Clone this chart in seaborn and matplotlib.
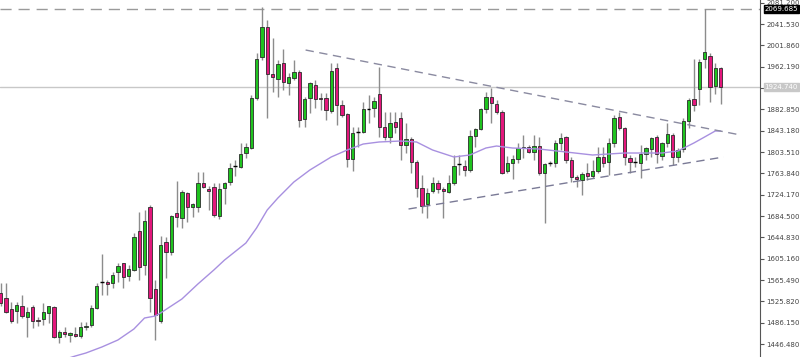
import numpy as np
import matplotlib
matplotlib.use("Agg")
import matplotlib.pyplot as plt
import matplotlib.transforms as mtransforms
import seaborn as sns

# ---------------- data ----------------
opens = [1541.4, 1532.1, 1511.6, 1507.9, 1517.2, 1496.7, 1515.3, 1491.2, 1493.0, 1504.2,
         1515.3, 1459.5, 1468.8, 1463.3, 1465.1, 1461.4, 1478.1, 1481.9, 1513.5, 1561.8,
         1561.8, 1560.0, 1580.4, 1597.2, 1573.0, 1584.2, 1656.6, 1593.4, 1701.3, 1548.8,
         1489.3, 1636.2, 1617.6, 1690.1, 1680.8, 1727.3, 1701.3, 1701.3, 1745.9, 1734.8,
         1738.5, 1684.5, 1736.6, 1747.8, 1777.5, 1775.7, 1801.7, 1811.0, 1903.9, 1980.2,
         2036.0, 1948.6, 1939.3, 1969.1, 1931.9, 1941.2, 1952.3, 1864.9, 1903.9, 1928.2,
         1903.9, 1903.9, 1879.8, 1959.8, 1890.9, 1874.2, 1790.5, 1840.7, 1840.7, 1883.5,
         1885.4, 1911.4, 1850.0, 1831.4, 1859.3, 1866.8, 1816.6, 1827.7, 1785.0, 1736.6,
         1706.9, 1731.0, 1745.9, 1734.8, 1729.2, 1745.9, 1781.2, 1777.5, 1770.1, 1833.3,
         1846.3, 1883.5, 1905.8, 1892.8, 1877.9, 1768.2, 1783.1, 1790.5, 1811.0, 1812.9,
         1803.6, 1814.7, 1764.5, 1783.1, 1783.1, 1820.3, 1831.4, 1788.7, 1757.1, 1751.5,
         1764.5, 1758.9, 1768.2, 1794.3, 1785.0, 1820.3, 1868.6, 1848.2, 1792.4, 1785.0,
         1783.1, 1799.8, 1809.1, 1831.4, 1796.1, 1820.3, 1835.2, 1794.3, 1809.1, 1861.2,
         1902.1, 1920.7, 1976.5, 1982.1, 1926.3, 1959.8]
closes = [1522.8, 1506.0, 1489.3, 1519.1, 1498.6, 1506.0, 1489.3, 1490.2, 1506.0, 1517.2,
          1459.5, 1468.8, 1465.1, 1467.0, 1461.4, 1478.1, 1480.0, 1513.5, 1554.4, 1561.8,
          1558.1, 1574.8, 1591.6, 1571.1, 1586.0, 1645.5, 1589.7, 1675.2, 1532.1, 1500.5,
          1630.6, 1617.6, 1684.5, 1682.7, 1729.2, 1701.3, 1706.9, 1745.9, 1738.5, 1731.0,
          1686.4, 1734.8, 1745.9, 1773.8, 1777.5, 1799.8, 1812.9, 1903.9, 1976.5, 2036.0,
          1948.6, 1943.0, 1967.2, 1933.7, 1943.0, 1952.3, 1863.1, 1902.1, 1931.9, 1902.1,
          1902.1, 1881.7, 1954.2, 1890.9, 1872.4, 1790.5, 1838.9, 1840.7, 1883.5, 1883.5,
          1898.4, 1850.0, 1831.4, 1857.5, 1850.0, 1816.6, 1827.7, 1785.0, 1736.6, 1703.1,
          1727.3, 1745.9, 1734.8, 1731.0, 1745.9, 1777.5, 1781.2, 1770.1, 1833.3, 1846.3,
          1883.5, 1905.8, 1894.7, 1877.9, 1764.5, 1783.1, 1790.5, 1811.0, 1812.9, 1803.6,
          1814.7, 1764.5, 1781.2, 1783.1, 1820.3, 1829.6, 1788.7, 1757.1, 1753.3, 1762.7,
          1758.9, 1768.2, 1794.3, 1783.1, 1820.3, 1866.8, 1848.2, 1794.3, 1785.0, 1785.0,
          1799.8, 1811.0, 1829.6, 1799.8, 1820.3, 1837.0, 1794.3, 1807.3, 1861.2, 1900.3,
          1890.9, 1970.9, 1989.5, 1924.4, 1959.8, 1924.74]
highs = [1560.0, 1560.0, 1524.6, 1524.6, 1537.6, 1515.3, 1519.1, 1496.7, 1522.8, 1517.2,
         1517.2, 1472.5, 1478.1, 1468.8, 1478.1, 1487.4, 1487.4, 1519.1, 1560.0, 1613.9,
         1565.6, 1580.4, 1597.2, 1597.2, 1593.4, 1652.9, 1692.0, 1695.7, 1705.0, 1565.5,
         1647.4, 1645.5, 1686.4, 1749.6, 1732.9, 1729.2, 1708.7, 1766.4, 1766.4, 1740.3,
         1745.9, 1745.9, 1747.8, 1783.1, 1788.7, 1820.3, 1820.3, 1909.5, 1987.6, 2074.0,
         2049.0, 2015.5, 1974.6, 1995.1, 1950.5, 1974.6, 1956.0, 1905.8, 1933.7, 1937.4,
         1913.3, 1913.3, 1969.1, 1969.1, 1900.3, 1876.1, 1850.0, 1850.0, 1896.5, 1909.5,
         1905.8, 1961.6, 1877.9, 1877.9, 1877.9, 1877.9, 1857.5, 1831.4, 1788.7, 1760.8,
         1736.6, 1757.1, 1751.5, 1738.5, 1760.8, 1798.0, 1798.0, 1788.7, 1844.5, 1848.2,
         1885.4, 1915.1, 1922.6, 1900.3, 1881.7, 1796.1, 1798.0, 1820.3, 1835.2, 1816.6,
         1835.2, 1831.4, 1783.1, 1786.8, 1825.9, 1838.9, 1833.3, 1794.3, 1760.8, 1766.4,
         1783.1, 1788.7, 1812.9, 1812.9, 1829.6, 1872.4, 1877.9, 1850.0, 1798.0, 1794.3,
         1816.6, 1812.9, 1831.4, 1835.2, 1822.2, 1857.5, 1838.9, 1811.0, 1866.8, 1903.9,
         1976.5, 1976.5, 2069.685, 1987.6, 1969.1, 1961.6]
lows = [1517.2, 1504.2, 1485.6, 1485.6, 1494.9, 1459.5, 1476.3, 1480.0, 1481.9, 1485.6,
        1457.7, 1448.4, 1459.5, 1450.2, 1459.5, 1457.7, 1472.5, 1478.1, 1511.6, 1537.6,
        1537.6, 1550.7, 1561.8, 1550.7, 1563.7, 1582.3, 1565.5, 1574.8, 1506.0, 1454.0,
        1485.6, 1569.3, 1612.0, 1664.1, 1662.2, 1673.4, 1682.7, 1692.0, 1736.6, 1695.7,
        1682.7, 1678.9, 1706.9, 1742.2, 1758.9, 1773.8, 1792.4, 1809.1, 1900.3, 1974.6,
        1866.8, 1915.1, 1905.8, 1918.8, 1909.5, 1937.4, 1850.0, 1850.0, 1876.1, 1885.4,
        1881.7, 1863.1, 1876.1, 1853.8, 1868.6, 1775.7, 1768.2, 1812.9, 1838.9, 1857.5,
        1868.6, 1831.4, 1825.9, 1820.3, 1838.9, 1788.7, 1801.7, 1764.5, 1719.9, 1690.1,
        1680.8, 1727.3, 1727.3, 1680.8, 1727.3, 1742.2, 1760.8, 1758.9, 1766.4, 1812.9,
        1844.5, 1876.1, 1857.5, 1874.2, 1762.7, 1764.5, 1753.3, 1783.1, 1792.4, 1801.7,
        1788.7, 1760.8, 1671.5, 1777.5, 1775.7, 1807.3, 1783.1, 1747.8, 1738.5, 1723.6,
        1751.5, 1755.2, 1764.5, 1775.7, 1760.8, 1812.9, 1844.5, 1779.4, 1764.5, 1775.7,
        1755.2, 1788.7, 1794.3, 1783.1, 1788.7, 1812.9, 1779.4, 1785.0, 1803.6, 1848.2,
        1879.8, 1890.9, 1959.8, 1896.5, 1911.4, 1892.8]

# moving average (purple line), sampled at bar numbers
ma_idx = [12, 14, 16, 19, 22, 25, 27, 29, 30, 34, 37, 40, 42, 46, 48, 50, 52, 55, 58, 62,
          65, 68, 71, 75, 78, 81, 85, 88, 91, 93, 96, 101, 106, 111, 117, 124, 127, 130,
          132, 134, 135]
ma_vals = [1418.0, 1424.2, 1429.8, 1441.0, 1454.0, 1474.4, 1494.9, 1498.6, 1504.2, 1530.2,
           1558.1, 1584.2, 1602.7, 1634.3, 1662.2, 1695.7, 1718.0, 1747.8, 1770.1, 1794.3,
           1807.3, 1818.4, 1822.2, 1824.0, 1822.2, 1807.3, 1794.3, 1798.0, 1811.0, 1814.7,
           1811.0, 1809.1, 1803.6, 1798.0, 1801.7, 1801.7, 1805.4, 1820.3, 1831.4, 1842.6,
           1842.6]

# triangle trend lines and levels
upper_idx = [57.2, 138.75]
upper_vals = [1993.2, 1835.2]
lower_idx = [76.5, 135.6]
lower_vals = [1697.6, 1794.3]
high_level = 2069.685
last_price = 1924.74
tick_vals = [1446.48, 1486.15, 1525.82, 1565.49, 1605.16, 1644.83, 1684.50, 1724.17,
             1763.84, 1803.51, 1843.18, 1882.85, 1922.52, 1962.19, 2001.86, 2041.53, 2081.20]

# ---------------- plot ----------------
sns.set_theme(style="white")
plt.rcParams["font.family"] = ["DejaVu Sans"]

fig = plt.figure(figsize=(8, 3.57), dpi=100)
ax = fig.add_axes([0, 0, 0.95, 1])

o = np.array(opens)
c = np.array(closes)
h = np.array(highs)
l = np.array(lows)
x = np.arange(len(o))

up = c > o
down = c < o
flat = c == o

# wicks
ax.vlines(x, l, h, color="#8c8c8c", lw=1, zorder=2)
# bodies
ax.bar(x[up], (c - o)[up], bottom=o[up], width=0.62, color="#1fc31f",
       edgecolor="#2b2b2b", lw=0.6, zorder=3)
ax.bar(x[down], (o - c)[down], bottom=c[down], width=0.62, color="#e3177c",
       edgecolor="#2b2b2b", lw=0.6, zorder=3)
ax.hlines(o[flat], x[flat] - 0.35, x[flat] + 0.35, color="black", lw=1, zorder=3)

# moving average
sns.lineplot(x=ma_idx, y=ma_vals, ax=ax, color="#a890e0", lw=1, zorder=4)

# trend lines
ax.plot(upper_idx, upper_vals, color="#8a8aa0", lw=1, ls=(0, (6, 4)), zorder=5)
ax.plot(lower_idx, lower_vals, color="#7a7a96", lw=1, ls=(0, (6, 4)), zorder=5)

# horizontal levels
ax.axhline(high_level, color="#9a9a9a", lw=1, ls=(0, (8, 5)), zorder=1)
ax.axhline(last_price, color="#c8c8c8", lw=1, zorder=1)

ax.set_xlim(-0.1, 142.4)
ax.set_ylim(1422.4, 2086.2)

# right price axis; the 1922.52 label sits under the last-price tag
ax.yaxis.tick_right()
ax.set_yticks(tick_vals)
ax.set_yticklabels(["" if abs(v - last_price) < 5 else f"{v:.3f}" for v in tick_vals])
ax.tick_params(axis="y", length=3, width=0.8, colors="#555555", labelsize=5,
               labelcolor="#444444", pad=1.5, direction="out")
ax.set_xticks([])
for side in ["left", "top", "bottom"]:
    ax.spines[side].set_visible(False)
ax.spines["right"].set_color("#555555")
ax.spines["right"].set_linewidth(0.8)

trans = mtransforms.blended_transform_factory(ax.transAxes, ax.transData)
ax.text(1.006, high_level, f"{high_level:.3f}", transform=trans, fontsize=5,
        color="white", va="center", ha="left", clip_on=False, zorder=10,
        bbox=dict(boxstyle="square,pad=0.15", fc="black", ec="black"))
ax.text(1.006, last_price, f"{last_price:.3f}", transform=trans, fontsize=5,
        color="white", va="center", ha="left", clip_on=False, zorder=10,
        bbox=dict(boxstyle="square,pad=0.15", fc="#c8c8c8", ec="#c8c8c8"))

fig.savefig("out.png", dpi=100, facecolor="white")
